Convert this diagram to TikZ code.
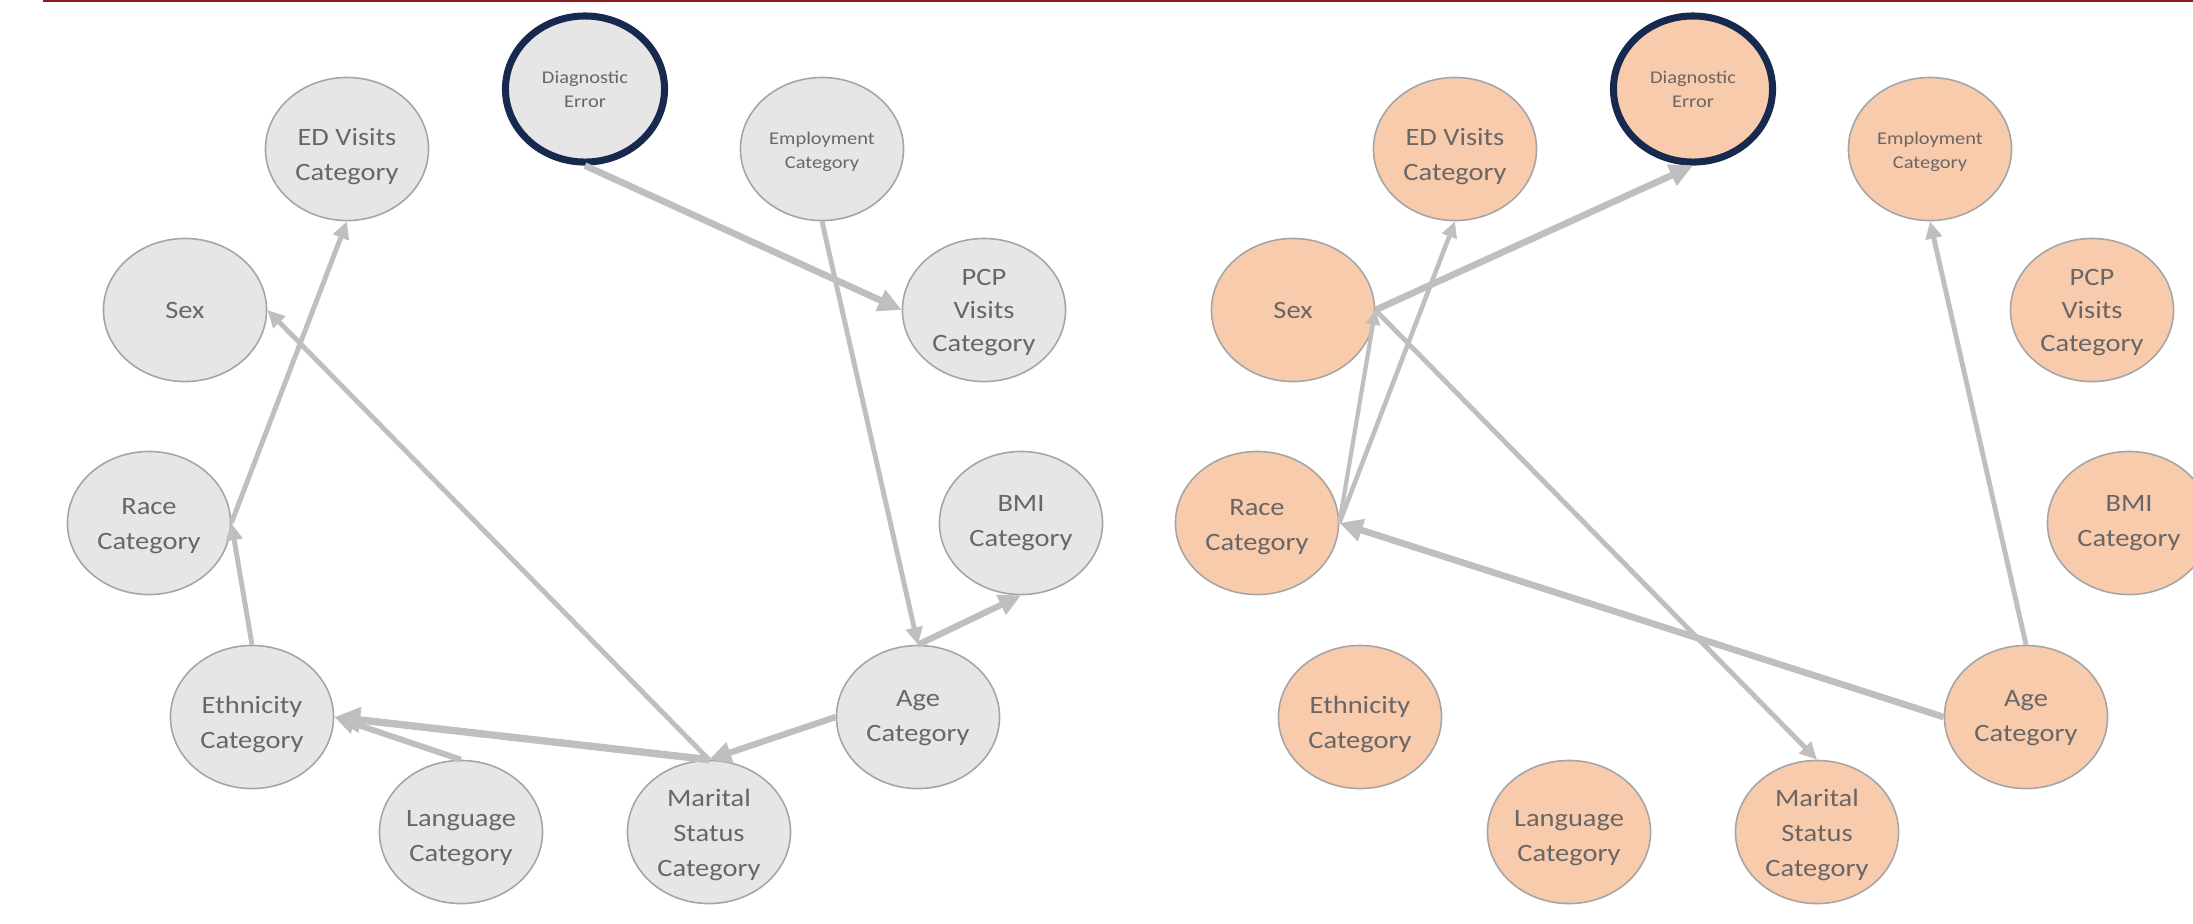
\documentclass[tikz,border=0pt]{standalone}
\usepackage{fontspec}
\setmainfont{Carlito}[FakeStretch=1.14]
\usetikzlibrary{shapes.geometric,arrows.meta}
\definecolor{nodegray}{HTML}{E7E6E6}
\definecolor{nodeorange}{HTML}{F8CBAD}
\definecolor{nodeborder}{HTML}{A5A5A5}
\definecolor{edgegray}{HTML}{BFBFBF}
\definecolor{labelgray}{HTML}{6B6666}
\definecolor{navyring}{HTML}{17294F}
\definecolor{topred}{HTML}{8E1A1A}
\begin{document}
\begin{tikzpicture}[x=0.01cm,y=-0.01cm,
  var/.style={ellipse, draw=nodeborder, line width=0.45pt, minimum width=1.63cm, minimum height=1.43cm, inner sep=0pt},
  lbl/.style={inner sep=0pt, align=center, text=labelgray, font=\fontsize{7.1pt}{10pt}\selectfont},
  smalltext/.style={font=\fontsize{5.1pt}{6.8pt}\selectfont},
  targetring/.style={draw=navyring, line width=2pt, minimum width=1.59cm, minimum height=1.46cm},
  gfill/.style={fill=nodegray},
  ofill/.style={fill=nodeorange},
  link/.style={draw=edgegray, line width=#1, -{Triangle[length=0pt 3.5, width=0pt 3.3]}},
  link/.default=1.4pt,
]
\useasboundingbox (0,0) rectangle (2193,923);
\clip (0,0) rectangle (2193,923);
\coordinate (redA) at (43,1);
\coordinate (redB) at (2193,1);
\draw[topred, line width=0.65pt] (redA) -- (redB);

% left graph
\node[var,gfill,targetring] (LDE) at (585,89) {};
\node[var,gfill] (LED) at (347,149) {};
\node[var,gfill] (LEmp) at (822,149) {};
\node[var,gfill] (LSex) at (185,310) {};
\node[var,gfill] (LPCP) at (984,310) {};
\node[var,gfill] (LRace) at (149,523) {};
\node[var,gfill] (LBMI) at (1021,523) {};
\node[var,gfill] (LEth) at (252,717) {};
\node[var,gfill] (LAge) at (918,717) {};
\node[var,gfill] (LLang) at (461,832) {};
\node[var,gfill] (LMar) at (709,832) {};

\node[lbl,smalltext] (LDEt) at (LDE.center) {Diagnostic\\Error};
\node[lbl] (LEDt) at ([yshift=-2.2pt]LED.center) {ED Visits\\Category};
\node[lbl,smalltext] (LEmpt) at ([yshift=-0.8pt]LEmp.center) {Employment\\Category};
\node[lbl] (LSext) at (LSex.center) {Sex};
\node[lbl,font=\fontsize{7.1pt}{9.4pt}\selectfont] (LPCPt) at ([yshift=-0.8pt]LPCP.center) {PCP\\Visits\\Category};
\node[lbl] (LRacet) at ([yshift=-0.9pt]LRace.center) {Race\\Category};
\node[lbl] (LBMIt) at (LBMI.center) {BMI\\Category};
\node[lbl] (LEtht) at ([yshift=-2.2pt]LEth.center) {Ethnicity\\Category};
\node[lbl] (LAget) at ([yshift=-0.3pt]LAge.center) {Age\\Category};
\node[lbl] (LLangt) at ([yshift=-1.7pt]LLang.center) {Language\\Category};
\node[lbl] (LMart) at ([yshift=-0.8pt]LMar.center) {Marital\\Status\\Category};

\draw[link=1.9pt] (LDE.south) -- (LPCP.west);
\draw[link=1.4pt] (LEmp.south) -- (LAge.north);
\draw[link=1.8pt] (LAge.north) -- (LBMI.south);
\draw[link=1.8pt] (LAge.west) -- (LMar.north);
\draw[link=2.1pt] (LMar.north) -- (LEth.east);
\draw[link=1.7pt] (LLang.north) -- (LEth.east);
\draw[link=1.4pt] (LMar.north) -- (LSex.east);
\draw[link=1.4pt] (LEth.north) -- (LRace.east);
\draw[link=1.4pt] (LRace.east) -- (LED.south);

% right graph
\node[var,ofill,targetring] (RDE) at (1693,89) {};
\node[var,ofill] (RED) at (1455,149) {};
\node[var,ofill] (REmp) at (1930,149) {};
\node[var,ofill] (RSex) at (1293,310) {};
\node[var,ofill] (RPCP) at (2092,310) {};
\node[var,ofill] (RRace) at (1257,523) {};
\node[var,ofill] (RBMI) at (2129,523) {};
\node[var,ofill] (REth) at (1360,717) {};
\node[var,ofill] (RAge) at (2026,717) {};
\node[var,ofill] (RLang) at (1569,832) {};
\node[var,ofill] (RMar) at (1817,832) {};

\node[lbl,smalltext] (RDEt) at (RDE.center) {Diagnostic\\Error};
\node[lbl] (REDt) at ([yshift=-2.2pt]RED.center) {ED Visits\\Category};
\node[lbl,smalltext] (REmpt) at ([yshift=-0.8pt]REmp.center) {Employment\\Category};
\node[lbl] (RSext) at (RSex.center) {Sex};
\node[lbl,font=\fontsize{7.1pt}{9.4pt}\selectfont] (RPCPt) at ([yshift=-0.8pt]RPCP.center) {PCP\\Visits\\Category};
\node[lbl] (RRacet) at ([yshift=-1.1pt]RRace.center) {Race\\Category};
\node[lbl] (RBMIt) at (RBMI.center) {BMI\\Category};
\node[lbl] (REtht) at ([yshift=-2.2pt]REth.center) {Ethnicity\\Category};
\node[lbl] (RAget) at ([yshift=-0.3pt]RAge.center) {Age\\Category};
\node[lbl] (RLangt) at ([yshift=-1.7pt]RLang.center) {Language\\Category};
\node[lbl] (RMart) at ([yshift=-0.8pt]RMar.center) {Marital\\Status\\Category};

\draw[link=1.9pt] (RSex.east) -- (RDE.south);
\draw[link=1.3pt] (RRace.east) -- (RED.south);
\draw[link=1.2pt] (RRace.east) -- (RSex.east);
\draw[link=1.4pt] (RSex.east) -- (RMar.north);
\draw[link=1.9pt] (RAge.west) -- (RRace.east);
\draw[link=1.4pt] (RAge.north) -- (REmp.south);
\end{tikzpicture}
\end{document}
